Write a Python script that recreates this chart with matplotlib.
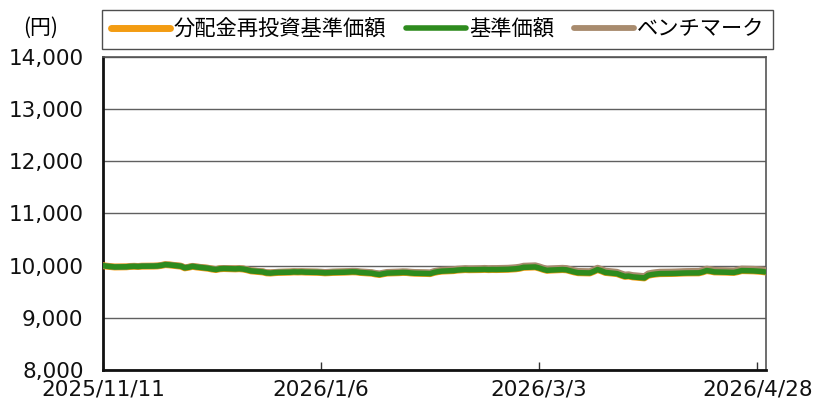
import matplotlib
matplotlib.use("Agg")
import matplotlib.pyplot as plt
import pandas as pd

plt.rcParams['font.family'] = ['DejaVu Sans', 'Noto Sans CJK JP']

START = "2025-11-11"
END_LIMIT = "2026-04-30 06:00"

# 基準価額 (business days from 2025/11/11)
nav = [
    # Nov
    10000, 9990, 9982, 9975, 9978, 9985, 9988, 9984, 9990, 9992, 9995, 10005, 10020, 10015,
    # Dec
    9990, 9958, 9970, 9987, 9975, 9950, 9935, 9925, 9940, 9945, 9938, 9942, 9935, 9920, 9900,
    9880, 9862, 9858, 9865, 9870, 9875, 9880, 9878,
    # Jan
    9880, 9876, 9872, 9868, 9862, 9865, 9870, 9875, 9878, 9882, 9880, 9870, 9855, 9840, 9830,
    9845, 9858, 9865, 9870, 9868, 9860, 9855,
    # Feb
    9850, 9847, 9870, 9885, 9895, 9905, 9915, 9920, 9925, 9922, 9925, 9928, 9924, 9926, 9925,
    9930, 9935, 9940, 9950, 9968,
    # Mar
    9975, 9955, 9930, 9910, 9915, 9925, 9920, 9900, 9880, 9865, 9860, 9890, 9925, 9900, 9870,
    9847, 9820, 9795, 9800, 9785, 9765, 9815,
    # Apr
    9830, 9840, 9847, 9850, 9852, 9855, 9858, 9860, 9862, 9880, 9905, 9895, 9880, 9875, 9872,
    9870, 9885, 9905, 9900, 9895, 9890, 9880,
]

# 分配金再投資基準価額 (no distributions in the period)
reinvest = [
    10000, 9990, 9982, 9975, 9978, 9985, 9988, 9984, 9990, 9992, 9995, 10005, 10020, 10015,
    9990, 9958, 9970, 9987, 9975, 9950, 9935, 9925, 9940, 9945, 9938, 9942, 9935, 9920, 9900,
    9880, 9862, 9858, 9865, 9870, 9875, 9880, 9878,
    9880, 9876, 9872, 9868, 9862, 9865, 9870, 9875, 9878, 9882, 9880, 9870, 9855, 9840, 9830,
    9845, 9858, 9865, 9870, 9868, 9860, 9855,
    9850, 9847, 9870, 9885, 9895, 9905, 9915, 9920, 9925, 9922, 9925, 9928, 9924, 9926, 9925,
    9930, 9935, 9940, 9950, 9968,
    9975, 9955, 9930, 9910, 9915, 9925, 9920, 9900, 9880, 9865, 9860, 9890, 9925, 9900, 9870,
    9847, 9820, 9795, 9800, 9785, 9765, 9815,
    9830, 9840, 9847, 9850, 9852, 9855, 9858, 9860, 9862, 9880, 9905, 9895, 9880, 9875, 9872,
    9870, 9885, 9905, 9900, 9895, 9890, 9880,
]

# ベンチマーク
bench = [
    10000, 9991, 9984, 9977, 9980, 9988, 9991, 9987, 9993, 9996, 9999, 10009, 10025, 10020,
    9996, 9965, 9977, 9994, 9983, 9958, 9944, 9934, 9950, 9955, 9949, 9953, 9947, 9932, 9913,
    9893, 9876, 9872, 9879, 9885, 9890, 9896, 9894,
    9896, 9893, 9889, 9886, 9880, 9884, 9889, 9895, 9898, 9903, 9901, 9892, 9877, 9862, 9853,
    9868, 9881, 9889, 9894, 9892, 9885, 9880,
    9876, 9873, 9897, 9912, 9922, 9933, 9943, 9948, 9954, 9951, 9954, 9958, 9954, 9956, 9956,
    9961, 9966, 9972, 9982, 10000,
    10008, 9988, 9963, 9944, 9949, 9960, 9955, 9935, 9915, 9900, 9895, 9926, 9961, 9936, 9906,
    9883, 9856, 9831, 9836, 9821, 9801, 9852,
    9867, 9877, 9885, 9888, 9890, 9893, 9896, 9898, 9901, 9919, 9944, 9934, 9919, 9914, 9911,
    9909, 9925, 9945, 9940, 9935, 9930, 9920,
]

tick_dates = ["2025-11-11", "2026-01-06", "2026-03-03", "2026-04-28"]
tick_labels = ["2025/11/11", "2026/1/6", "2026/3/3", "2026/4/28"]
y_ticks = [8000, 9000, 10000, 11000, 12000, 13000, 14000]

dates = pd.bdate_range(START, periods=len(nav))

fig = plt.figure(figsize=(8.2, 4.01), dpi=100)
ax = fig.add_axes([103 / 820, 1 - 370 / 401, 663 / 820, 313 / 401])

l1, = ax.plot(dates, reinvest, color='#f39c12', lw=5.0, solid_capstyle='round', zorder=3,
              label='分配金再投資基準価額')
l3, = ax.plot(dates, bench, color='#a88b6e', lw=4.2, solid_capstyle='round', zorder=4,
              label='ベンチマーク')
l2, = ax.plot(dates, nav, color='#2e8b1e', lw=4.0, solid_capstyle='round', zorder=5,
              label='基準価額')

ax.set_ylim(8000, 14000)
ax.set_yticks(y_ticks)
ax.set_yticklabels([f"{v:,}" for v in y_ticks])
ax.yaxis.grid(True, color='#606060', lw=1)
ax.set_axisbelow(True)

ax.set_xlim(pd.Timestamp(START), pd.Timestamp(END_LIMIT))
ax.set_xticks([pd.Timestamp(d) for d in tick_dates])
ax.set_xticklabels(tick_labels)

ax.tick_params(axis='x', direction='in', length=6, width=1, colors='#333333',
               labelsize=15.5, labelcolor='#111111', pad=7)
ax.tick_params(axis='y', length=0, labelsize=15.5, labelcolor='#111111', pad=14)

for side in ['left', 'bottom']:
    ax.spines[side].set_color('#111111')
    ax.spines[side].set_linewidth(2)
for side in ['top', 'right']:
    ax.spines[side].set_color('#555555')
    ax.spines[side].set_linewidth(1.2)

fig.text(41 / 820, 1 - 28 / 401, '(円)', fontsize=15, ha='center', va='center',
         family=['Noto Sans CJK JP', 'DejaVu Sans'])

leg = fig.legend(handles=[l1, l2, l3], loc='center', ncol=3,
                 bbox_to_anchor=(437.5 / 820, 1 - 29.5 / 401),
                 prop={'family': ['Noto Sans CJK JP', 'DejaVu Sans'], 'size': 15.3},
                 frameon=True, fancybox=False, edgecolor='#222222',
                 handlelength=2.8, handletextpad=0.15, columnspacing=0.95,
                 borderpad=0.4, borderaxespad=0)
leg.get_frame().set_linewidth(1)

fig.savefig('out.png', dpi=100)
